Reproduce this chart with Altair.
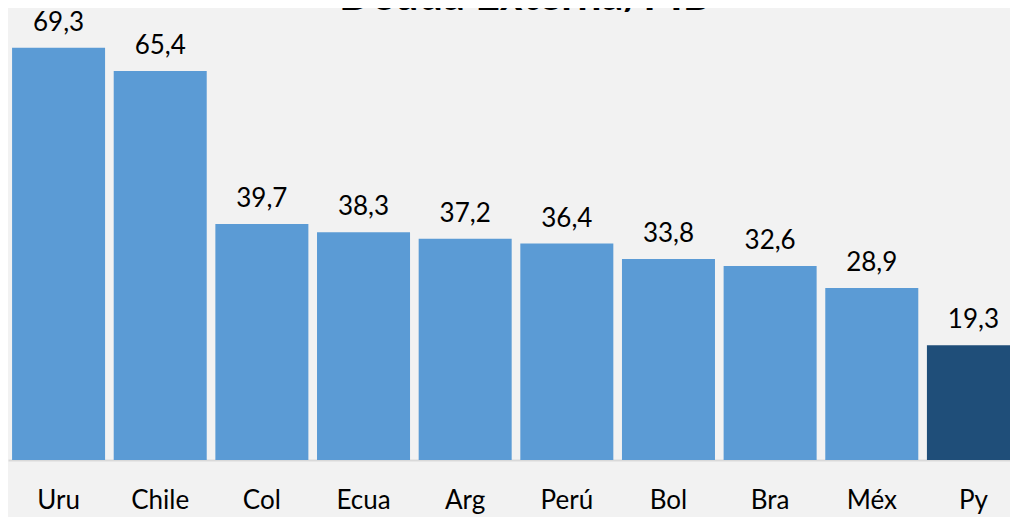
import altair as alt
import pandas as pd

paises = ["Uru", "Chile", "Col", "Ecua", "Arg", "Perú", "Bol", "Bra", "Méx", "Py"]
valores = [69.3, 65.4, 39.7, 38.3, 37.2, 36.4, 33.8, 32.6, 28.9, 19.3]
titulo = "Deuda Externa/PIB"

df = pd.DataFrame({"pais": paises, "valor": valores})
df["etiqueta"] = [f"{v:.1f}".replace(".", ",") for v in valores]

FONT = "Lato"

x = alt.X("pais:N", sort=paises, title=None,
          scale=alt.Scale(paddingInner=0.085, paddingOuter=0.04),
          axis=alt.Axis(labelAngle=0, labelFontSize=26, labelFont=FONT, labelColor="#000000",
                        labelPadding=27, ticks=False, domainColor="#d9d9d9", domainWidth=2))
y = alt.Y("valor:Q", title=None, scale=alt.Scale(domain=[0, 76], nice=False), axis=None)

bars = alt.Chart(df).mark_bar().encode(
    x=x, y=y,
    color=alt.condition(alt.datum.pais == "Py", alt.value("#1f4e79"), alt.value("#5b9bd5")),
)

labels = alt.Chart(df).mark_text(baseline="bottom", dy=-12, fontSize=26, font=FONT, color="#000000").encode(
    x=alt.X("pais:N", sort=paises), y="valor:Q", text="etiqueta:N"
)

tdf = pd.DataFrame({"t": [titulo]})
title = alt.Chart(tdf).mark_text(baseline="alphabetic", fontSize=43, fontWeight="bold", font=FONT,
                                  color="#000000").encode(
    x=alt.value(517), y=alt.value(2), text="t:N"
)

chart = alt.layer(bars, labels, title).properties(
    width=1016, height=452,
    autosize=alt.AutoSizeParams(type="none"),
    padding={"top": 0, "left": 0, "right": -14, "bottom": 57},
    background="#f2f2f2",
).configure_view(stroke=None)

chart.save("out.html", embed_options={"renderer": "svg", "actions": False})
